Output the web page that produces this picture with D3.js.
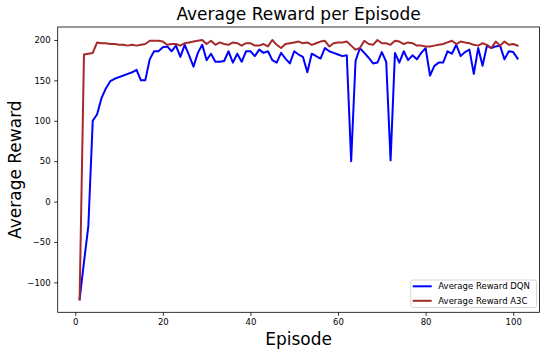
<!DOCTYPE html>
<html>
<head>
<meta charset="utf-8">
<script src="https://cdn.jsdelivr.net/npm/d3@7"></script>
<style>
  html, body { margin: 0; padding: 0; background: #fff; }
  svg { display: block; font-family: "DejaVu Sans", sans-serif; }
</style>
</head>
<body>
<svg id="chart"></svg>
<script>
// ─── data ──────────────────────────────────────────────
const dqnReward = [
  -121, -75, -30, 100, 108, 128, 140, 149, 152, 154,
  156, 158, 160, 163, 150, 150, 176, 186, 186, 191,
  192, 186, 193, 179, 194, 181, 167, 184, 194, 175,
  183, 173, 173, 174, 186, 172, 183, 173, 186, 186,
  180, 188, 184, 186, 175, 172, 184, 177, 171, 186,
  182, 179, 160, 183, 180, 177, 190, 186, 184, 182,
  180, 181, 50, 174, 190, 184, 178, 171, 172, 185,
  173, 51, 184, 172, 186, 175, 181, 176, 184, 190,
  156, 168, 172, 172, 186, 183, 194, 180, 185, 188,
  158, 190, 168, 193, 190, 192, 193, 176, 186, 185,
  177
];
const a3cReward = [
  -121, 182, 183, 184, 197, 196, 196, 195, 195, 194,
  194, 193, 194, 193, 194, 195, 199, 199, 199, 198,
  194, 195, 195, 193, 196, 197, 198, 199, 200, 195,
  199, 194, 197, 195, 194, 197, 196, 193, 196, 196,
  193, 193, 195, 192, 200, 194, 190, 195, 196, 197,
  198, 196, 197, 194, 196, 198, 199, 192, 196, 197,
  197, 198, 193, 188, 190, 199, 195, 194, 200, 196,
  196, 194, 199, 198, 195, 197, 196, 193, 193, 192,
  192, 193, 194, 195, 197, 199, 195, 198, 197, 196,
  194, 193, 196, 194, 190, 198, 193, 198, 194, 195,
  193
];
const xTicks = [0, 20, 40, 60, 80, 100];
const yTicks = [-100, -50, 0, 50, 100, 150, 200];
const seriesNames = ['Average Reward DQN', 'Average Reward A3C'];
const seriesColors = ['blue', 'brown'];

// ─── layout ────────────────────────────────────────────
const W = 550, H = 354;
const M = { top: 27, right: 10.5, bottom: 41.7, left: 57.7 };
const iw = W - M.left - M.right;
const ih = H - M.top - M.bottom;

const svg = d3.select('#chart').attr('width', W).attr('height', H);

const episodes = dqnReward.map((_, i) => i + 1);
const series = [dqnReward, a3cReward];

// matplotlib style 5% padding on both axes
const xExt = d3.extent(episodes);
const xPad = (xExt[1] - xExt[0]) * 0.05;
const allVals = dqnReward.concat(a3cReward);
const yExt = d3.extent(allVals);
const yPad = (yExt[1] - yExt[0]) * 0.05;

const x = d3.scaleLinear()
  .domain([xExt[0] - xPad, xExt[1] + xPad])
  .range([0, iw]);
const y = d3.scaleLinear()
  .domain([yExt[0] - yPad, yExt[1] + yPad])
  .range([ih, 0]);

const g = svg.append('g').attr('transform', `translate(${M.left},${M.top})`);

// ─── lines ─────────────────────────────────────────────
const line = d3.line()
  .x((d, i) => x(episodes[i]))
  .y(d => y(d));

series.forEach((s, k) => {
  g.append('path')
    .datum(s)
    .attr('fill', 'none')
    .attr('stroke', seriesColors[k])
    .attr('stroke-width', 2)
    .attr('stroke-linejoin', 'round')
    .attr('stroke-linecap', 'square')
    .attr('d', line);
});

// ─── axes ──────────────────────────────────────────────
const xAxis = g.append('g')
  .attr('transform', `translate(0,${ih})`)
  .call(d3.axisBottom(x).tickValues(xTicks).tickSize(3.5).tickPadding(3.5).tickFormat(d3.format('d')));
const yAxis = g.append('g')
  .call(d3.axisLeft(y).tickValues(yTicks).tickSize(3.5).tickPadding(3.5).tickFormat(d3.format('d')));

[xAxis, yAxis].forEach(a => {
  a.select('.domain').remove();
  a.selectAll('line').attr('stroke', '#000').attr('stroke-width', 0.8);
  a.selectAll('text')
    .attr('fill', '#000')
    .style('font-family', '"DejaVu Sans", sans-serif')
    .style('font-size', '8.5px');
});

// frame (all four spines)
g.append('rect')
  .attr('width', iw).attr('height', ih)
  .attr('fill', 'none')
  .attr('stroke', '#000')
  .attr('stroke-width', 0.8);

// ─── titles ────────────────────────────────────────────
svg.append('text')
  .attr('x', M.left + iw / 2).attr('y', 20)
  .attr('text-anchor', 'middle')
  .style('font-size', '17px')
  .text('Average Reward per Episode');

svg.append('text')
  .attr('x', M.left + iw / 2).attr('y', 345)
  .attr('text-anchor', 'middle')
  .style('font-size', '17px')
  .text('Episode');

svg.append('text')
  .attr('transform', `translate(21,${M.top + ih / 2}) rotate(-90)`)
  .attr('text-anchor', 'middle')
  .style('font-size', '17px')
  .text('Average Reward');

// ─── legend (lower right) ──────────────────────────────
const lg = svg.append('g').attr('transform', 'translate(410.7,280)');
lg.append('rect')
  .attr('width', 125.8).attr('height', 27.5)
  .attr('rx', 2)
  .attr('fill', '#fff').attr('fill-opacity', 0.8)
  .attr('stroke', '#ccc').attr('stroke-width', 0.8);

seriesNames.forEach((name, k) => {
  const cy = 6.3 + k * 14.5;
  lg.append('line')
    .attr('x1', 2).attr('x2', 21)
    .attr('y1', cy).attr('y2', cy)
    .attr('stroke', seriesColors[k]).attr('stroke-width', 2);
  lg.append('text')
    .attr('x', 27.6).attr('y', cy + 3.1)
    .style('font-size', '8.5px')
    .text(name);
});
</script>
</body>
</html>
